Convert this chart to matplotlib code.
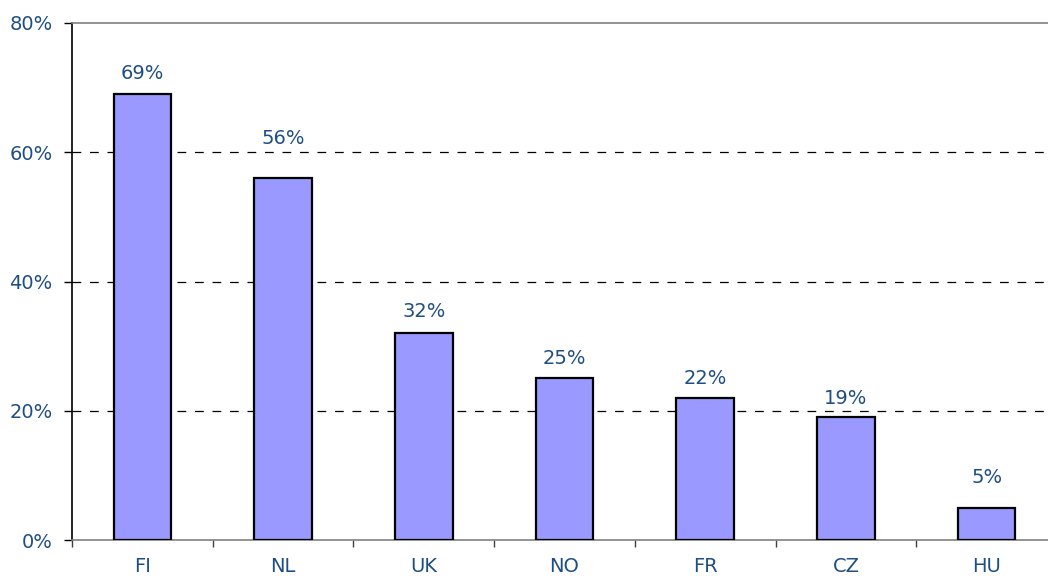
import matplotlib
matplotlib.use("Agg")
import matplotlib.pyplot as plt
from matplotlib.ticker import FixedLocator, NullFormatter

categories = ["FI", "NL", "UK", "NO", "FR", "CZ", "HU"]
values = [69, 56, 32, 25, 22, 19, 5]
ytick_vals = [0, 20, 40, 60, 80]
ytick_labels = ["0%", "20%", "40%", "60%", "80%"]

# label offsets above bar tops (pixels) -- layout only
label_offsets_px = [21, 40, 22, 20, 19, 19, 30]

navy = "#1F4E82"
fig = plt.figure(figsize=(10.48, 5.76), dpi=100)
ax = fig.add_axes([72/1048, 1-540/576, 985/1048, (540-23)/576])

x = list(range(len(categories)))
ax.bar(x, values, width=0.41, color="#9999FF", edgecolor="black", linewidth=1.6, zorder=3)
for xi, v, off in zip(x, values, label_offsets_px):
    ax.annotate(f"{v}%", (xi, v), xytext=(0, off * 0.72), textcoords="offset points",
                ha="center", va="center", fontsize=14, color=navy, zorder=4)

ax.set_xlim(-0.5, len(categories) - 0.5)
ax.set_ylim(0, 80)
ax.set_yticks(ytick_vals)
ax.set_yticklabels(ytick_labels, fontsize=14, color=navy)
ax.set_xticks(x)
ax.set_xticklabels(categories, fontsize=14, color=navy)
ax.tick_params(axis="x", which="major", length=0, pad=12)
ax.xaxis.set_minor_locator(FixedLocator([i + 0.5 for i in range(-1, len(categories))]))
ax.xaxis.set_minor_formatter(NullFormatter())
ax.tick_params(axis="x", which="minor", length=5, color="#404040", width=1)
ax.tick_params(axis="y", length=6, width=1, color="black", pad=8)

for yv in [20, 40, 60]:
    ax.axhline(yv, color="black", linestyle=(0, (7, 7)), linewidth=0.9, zorder=1)

ax.spines["right"].set_visible(False)
ax.spines["top"].set_color("#808080")
ax.spines["top"].set_linewidth(1.2)
ax.spines["bottom"].set_color("#808080")
ax.spines["bottom"].set_linewidth(1.2)
ax.spines["left"].set_color("black")
ax.spines["left"].set_linewidth(1.2)

fig.savefig("out.png", dpi=100)
